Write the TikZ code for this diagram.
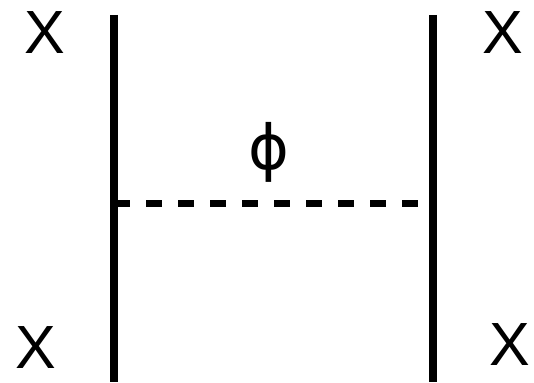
\documentclass[tikz,border=0pt]{standalone}
\usepackage{fontspec}
\setmainfont{Liberation Sans}
\newfontfamily\phifont{DejaVu Sans}
\begin{document}
\begin{tikzpicture}[x=1pt,y=-1pt,
  lbl/.style={inner sep=0pt,font=\fontsize{61}{70}\selectfont},
  fermion/.style={line width=7.5pt},
  scalar/.style={line width=6.5pt,dash pattern=on 16pt off 16pt}]
\useasboundingbox (0,0) rectangle (534,382);
\coordinate (l1) at (114,15);
\coordinate (l2) at (114,382);
\coordinate (r1) at (433,15);
\coordinate (r2) at (433,382);
\coordinate (s1) at (114,203.5);
\coordinate (s2) at (418,203.5);
\draw[fermion] (l1) -- (l2);
\draw[fermion] (r1) -- (r2);
\draw[scalar] (s1) -- (s2);
\node[lbl] (xtl) at (44.5,33) {X};
\node[lbl] (xtr) at (502.5,32.5) {X};
\node[lbl] (xbl) at (36,347.5) {X};
\node[lbl] (xbr) at (510,344.5) {X};
\node[inner sep=0pt,font=\phifont\fontsize{62}{70}\selectfont] (phi) at (268.5,152.5) {ϕ};
\end{tikzpicture}
\end{document}
